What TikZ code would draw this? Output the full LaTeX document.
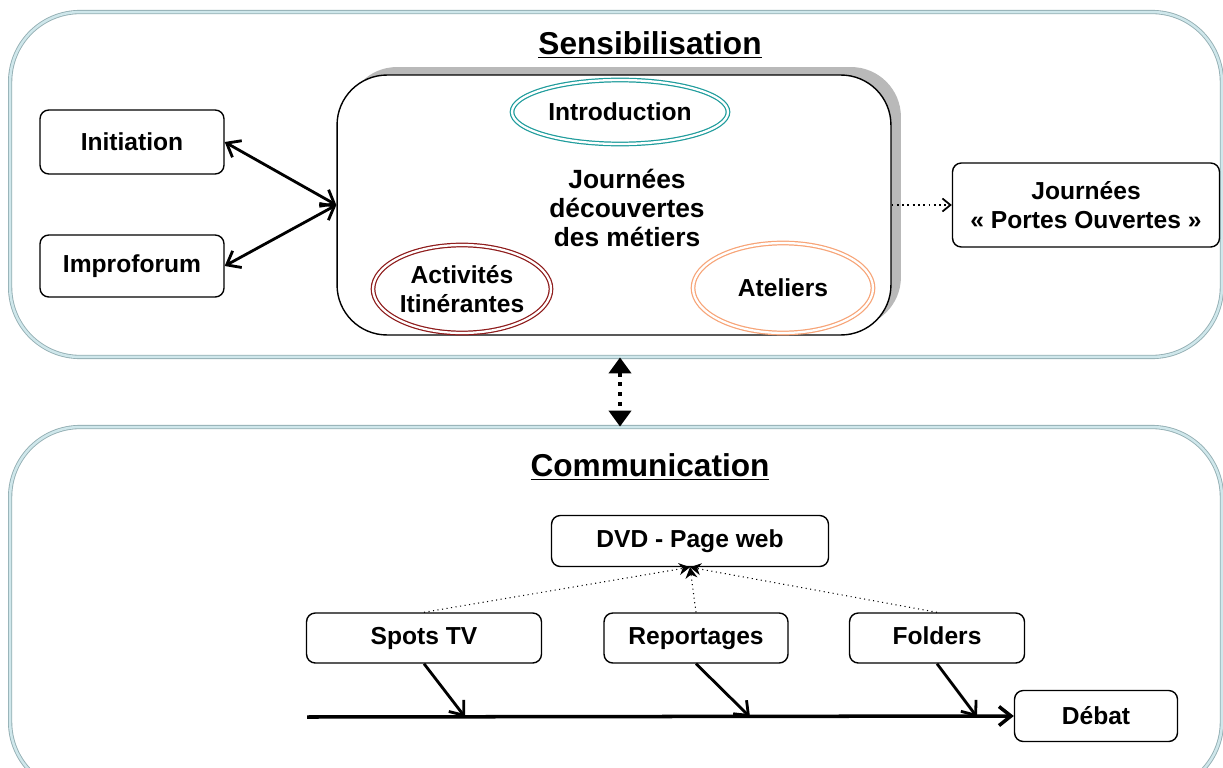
\documentclass[tikz,border=0pt]{standalone}
\usepackage{fontspec}
\setmainfont{Liberation Sans}
\usetikzlibrary{arrows.meta,shapes.geometric,shadows}
\definecolor{frameedge}{HTML}{93AEB3}
\definecolor{frameline}{HTML}{CFE7EB}
\definecolor{introteal}{HTML}{1F9C9C}
\definecolor{itired}{HTML}{8E1B1B}
\definecolor{peach}{HTML}{F7A477}
\tikzset{
  frame/.style={draw=frameedge, double=frameline, double distance=1.4pt, line width=0.5pt, rounded corners=1.4cm, inner sep=0pt},
  box/.style={draw, line width=0.8pt, rounded corners=5pt, align=center, inner sep=2pt, font=\fontsize{14}{16.5}\selectfont\bfseries},
  ring/.style={ellipse, draw=#1, double=white, double distance=1.3pt, line width=0.7pt, inner sep=0pt, align=center, font=\fontsize{14}{16.5}\selectfont\bfseries},
  title/.style={font=\fontsize{18}{20}\selectfont\bfseries},
  link/.style={line width=1.6pt, >={Straight Barb[length=2.4mm,width=3.8mm]}},
  hint/.style={dotted, line width=0.6pt, -{Stealth[length=2.2mm,width=2.4mm]}},
}

\begin{document}
\begin{tikzpicture}[x=0.02cm,y=-0.02cm]
  \useasboundingbox (0,0) rectangle (1223,767);
  % Sensibilisation
  \node[frame, minimum width=24.24cm, minimum height=6.9cm] (sens) at (616,184.5) {};
  \node[title] (senstitle) at (650,45) {\underline{Sensibilisation}};
  \node[box, minimum width=3.68cm, minimum height=1.28cm] (init) at (132,142) {Initiation};
  \node[box, minimum width=3.68cm, minimum height=1.24cm] (impro) at (132,266) {Improforum};
  \node[draw, line width=0.8pt, fill=white, rounded corners=1cm, minimum width=11.08cm, minimum height=5.2cm,
        drop shadow={shadow xshift=0.2cm, shadow yshift=0.16cm, fill=gray!55, opacity=1}] (jdm) at (614,205) {};
  \node[font=\fontsize{15}{16.5}\selectfont\bfseries, align=center] (jdmtext) at (627,208) {Journées\\découvertes\\des métiers};
  \node[ring=introteal, minimum width=4.32cm, minimum height=1.28cm] (intro) at (620,112) {Introduction};
  \node[ring=itired, minimum width=3.56cm, minimum height=1.76cm] (activ) at (462,289) {Activités\\Itinérantes};
  \node[ring=peach, minimum width=3.6cm, minimum height=1.8cm] (atel) at (783,288) {Ateliers};
  \node[box, minimum width=5.34cm, minimum height=1.68cm] (portes) at (1086,205) {Journées\\« Portes Ouvertes »};
  \draw[link, <->] (init.east) -- (jdm.west);
  \draw[link, <->] (impro.east) -- (jdm.west);
  \draw[dotted, line width=1pt, -{Straight Barb[length=1.6mm,width=2.6mm]}] (jdm.east) -- (portes.west);
  % Communication
  \node[frame, minimum width=24.24cm, minimum height=7.3cm] (comm) at (616,609.5) {};
  \draw[line width=2.4pt, dash pattern=on 2.4pt off 3.2pt,
        {Triangle[length=3.2mm,width=4.4mm]}-{Triangle[length=3.2mm,width=4.4mm]}]
        (intro |- sens.south) -- (intro |- comm.north);
  \node[title] (commtitle) at (650,467) {\underline{Communication}};
  \node[box, minimum width=5.54cm, minimum height=1.02cm] (dvd) at (690,541) {DVD - Page web};
  \node[box, minimum width=3.26cm, minimum height=1.02cm] (debat) at (1096,716) {Débat};
  \coordinate (axis) at (307,717);
  \draw[link, line width=2pt, ->] (axis) -- (debat.west);
  \foreach \nm/\lab/\x/\w/\hx in {spots/Spots TV/424/4.7/465, repo/Reportages/696/3.68/750, fold/Folders/937/3.5/977} {
    \node[box, minimum width=\w cm, minimum height=1cm, text height=0.72em, text depth=0pt] (\nm) at (\x,638) {\lab};
    \coordinate (\nm hit) at (\hx,717);
    \draw[link, ->] (\nm.south) -- (\nm hit);
    \draw[hint] (\nm.north) -- (dvd.south);
  }
\end{tikzpicture}
\end{document}
